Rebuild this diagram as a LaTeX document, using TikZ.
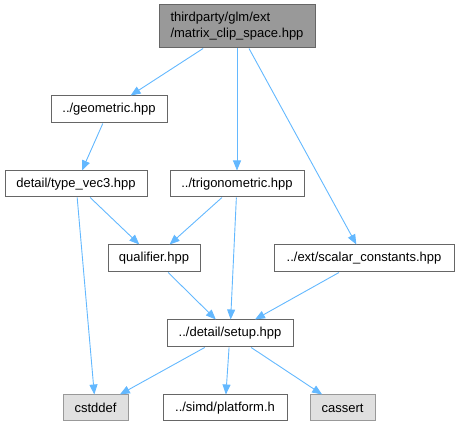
\documentclass[tikz,border=0pt]{standalone}
\usepackage{fontspec}
\setmainfont{Liberation Sans}
\usepackage{tikz}
\usetikzlibrary{arrows.meta}
\definecolor{edgeblue}{HTML}{63B8FF}
\definecolor{boxline}{HTML}{666666}
\definecolor{sysline}{HTML}{999999}
\definecolor{sysfill}{HTML}{E0E0E0}
\definecolor{rootfill}{HTML}{999999}
\tikzset{
  inc-file/.style={draw=boxline, fill=white, line width=1pt, inner sep=0pt,
    minimum height=26pt, font=\fontsize{13}{16}\selectfont},
  inc-system/.style={inc-file, draw=sysline, fill=sysfill},
  inc-root/.style={inc-file, fill=rootfill, align=left, minimum height=43pt},
  inc-edge/.style={draw=edgeblue, line width=0.9pt,
    -{Triangle[length=10pt, width=8pt]}}
}

\begin{document}
\begin{tikzpicture}[x=1pt, y=-1pt]
  \useasboundingbox (0,0) rectangle (459,427);

  % root header
  \node[inc-root, minimum width=156pt] (clip) at (237,26.5)
    {thirdparty/glm/ext\\/matrix\_clip\_space.hpp};

  % first level
  \node[inc-file, minimum width=116pt, minimum height=27pt] (geom) at (109,109.5) {../geometric.hpp};
  \node[inc-file, minimum width=142pt] (vec3) at (76,184) {detail/type\_vec3.hpp};
  \node[inc-file, minimum width=134pt] (trig) at (237,184) {../trigonometric.hpp};

  % middle level
  \node[inc-file, minimum width=92pt, minimum height=27pt] (qual) at (154,258.5) {qualifier.hpp};
  \node[inc-file, minimum width=180pt, minimum height=27pt] (scal) at (364,258.5) {../ext/scalar\_constants.hpp};
  \node[inc-file, minimum width=126pt, minimum height=27pt] (setup) at (230,333.5) {../detail/setup.hpp};

  % leaves
  \node[inc-system, minimum width=65pt] (cstddef) at (95.5,408) {cstddef};
  \node[inc-file, minimum width=124pt] (platform) at (225,408) {../simd/platform.h};
  \node[inc-system, minimum width=65pt] (cassert) at (342.5,408) {cassert};

  % include edges
  \draw[inc-edge] (clip) -- (geom);
  \draw[inc-edge] (clip) -- (trig);
  \draw[inc-edge] (clip) -- (scal);
  \draw[inc-edge] (geom) -- (vec3);
  \draw[inc-edge] (vec3) -- (qual);
  \draw[inc-edge] (vec3) -- (cstddef);
  \draw[inc-edge] (trig) -- (qual);
  \draw[inc-edge] (trig) -- (setup);
  \draw[inc-edge] (qual) -- (setup);
  \draw[inc-edge] (scal) -- (setup);
  \draw[inc-edge] (setup) -- (cstddef);
  \draw[inc-edge] (setup) -- (platform);
  \draw[inc-edge] (setup) -- (cassert);
\end{tikzpicture}
\end{document}
